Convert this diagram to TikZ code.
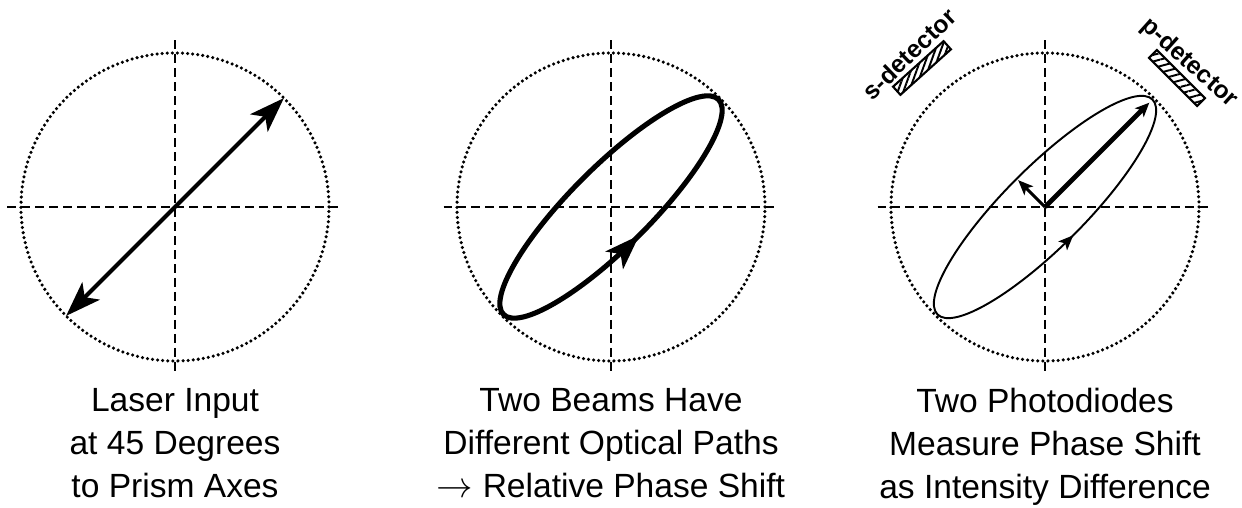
\documentclass[tikz,border=0pt]{standalone}
\usepackage{fontspec}
\newfontfamily\capfont{Liberation Sans}
\usetikzlibrary{arrows.meta, decorations.markings, patterns.meta}
\tikzset{
  axisline/.style={line width=1.6pt, dash pattern=on 5.1pt off 2.85pt},
  rimline/.style={line width=2pt, line cap=round, dash pattern=on 0pt off 2.9pt},
  caption/.style={font=\capfont\fontsize{19.1}{24.5}\selectfont, align=center, anchor=north, inner sep=0pt},
  detlabel/.style={font=\capfont\bfseries\fontsize{14}{16}\selectfont, inner sep=0pt},
  detector/.style={draw, line width=1.2pt, minimum width=1.36cm, minimum height=0.22cm, inner sep=0pt},
  bigtip/.tip={Stealth[length=20pt, width=14pt, inset=5pt]},
  smalltip/.tip={Stealth[length=8.5pt, width=7pt, inset=2pt]},
}

\begin{document}
\begin{tikzpicture}
\useasboundingbox (0,0) rectangle (24.84,10.16);
% ---- common frame: beam circle and prism axes ----
\foreach \cx/\k in {3.5/1, 12.22/2, 20.9/3}{
  \coordinate (o\k) at (\cx,6.02);
  \draw[rimline] (o\k) circle (3.08);
  \draw[axisline] (\cx-3.35,6.02) -- (\cx+3.35,6.02);
  \draw[axisline] (\cx,6.02+3.33) -- (\cx,6.02-3.33);
}
% ---- Panel 1: linear input at 45 deg ----
\begin{scope}[shift={(3.5,6.02)}]
\coordinate (p1a) at (225:3.08);
\coordinate (p1b) at (45:3.08);
\draw[line width=2.3pt, bigtip-bigtip] (p1a) -- (p1b);
\node[caption] (cap1) at (0,-3.62) {Laser Input\\at 45 Degrees\\to Prism Axes};
\end{scope}
% ---- Panel 2: elliptical after the prism ----
\begin{scope}[shift={(12.22,6.02)}]
\draw[line width=2.9pt, rotate=45, postaction={decorate},
  decoration={markings, mark=at position 0.75 with {\arrow{bigtip}}}] (0,0) ellipse (3.04 and 0.8);
\node[caption] (cap2) at (0,-3.62) {Two Beams Have\\Different Optical Paths\\$\rightarrow$ Relative Phase Shift};
\end{scope}
% ---- Panel 3: split onto the two detectors ----
\begin{scope}[shift={(20.9,6.02)}]
\draw[line width=1.1pt, rotate=45, postaction={decorate},
  decoration={markings, mark=at position 0.75 with {\arrow{smalltip}}}] (0,0) ellipse (3.04 and 0.8);
\coordinate (p3p) at (45:2.95);
\coordinate (p3s) at (135:0.76);
\draw[line width=2.8pt, -{Stealth[length=8pt, width=7pt, inset=2pt]}] (o3) -- (p3p);
\draw[line width=1.8pt, -smalltip] (o3) -- (p3s);
% detectors, hatched
\node[detector, rotate=42, pattern={Lines[angle=70, distance=3pt, line width=1.1pt]}] (sdet) at (-2.46,2.78) {};
\node[detector, rotate=-45, pattern={Lines[angle=15, distance=3.6pt, line width=1.1pt]}] (pdet) at (2.64,2.58) {};
\node[detlabel, rotate=44] (slab) at (-2.72,3.06) {s-detector};
\node[detlabel, rotate=-42] (plab) at (2.88,2.88) {p-detector};
\node[caption] (cap3) at (0,-3.62) {Two Photodiodes\\Measure Phase Shift\\as Intensity Difference};
\end{scope}
\end{tikzpicture}
\end{document}
